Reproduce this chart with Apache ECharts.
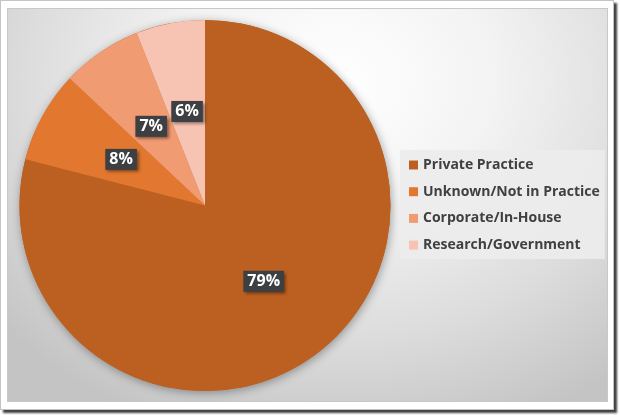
<!DOCTYPE html>
<html>
<head>
<meta charset="utf-8">
<script src="https://cdn.jsdelivr.net/npm/echarts@6/dist/echarts.min.js"></script>
<style>
  html, body { margin: 0; padding: 0; background: #ffffff; width: 620px; height: 415px; overflow: hidden; }
  #frame { position: absolute; left: 0; top: 0; width: 612px; height: 408px; border: 1px solid #c4c4c4; background: #ffffff; box-shadow: 3px 3px 2px rgba(0,0,0,0.75); }
  #inner { position: absolute; left: 7px; top: 8px; width: 599px; height: 392px; border: 1px solid #c8c8c8;
    background: radial-gradient(ellipse 75% 95% at 55% 18%, #ffffff 0%, #f3f3f3 35%, #dcdcdc 70%, #c4c4c4 100%); }
  #chart { position: absolute; left: 0; top: 0; width: 620px; height: 415px; }
</style>
</head>
<body>
<div id="frame"></div>
<div id="inner"></div>
<div id="chart"></div>
<script>
const categories = ['Private Practice', 'Unknown/Not in Practice', 'Corporate/In-House', 'Research/Government'];
const values = [79, 8, 7, 6];
const colors = ['#BC6022', '#E2772F', '#F19B72', '#F7C3B2'];

const chart = echarts.init(document.getElementById('chart'), null, { renderer: 'canvas' });
const data = categories.map((c, i) => ({ name: c, value: values[i], itemStyle: { color: colors[i] } }));

chart.setOption({
  backgroundColor: 'transparent',
  animation: false,
  legend: {
    orient: 'vertical',
    left: 400,
    top: 150,
    data: categories,
    icon: 'rect',
    itemWidth: 9,
    itemHeight: 9,
    itemGap: 10.7,
    padding: [7, 5, 6, 9],
    backgroundColor: 'rgba(236,236,236,0.9)',
    textStyle: { fontFamily: 'Open Sans', fontWeight: 'bold', fontSize: 14, color: '#404040', lineHeight: 16 }
  },
  series: [
    {
      type: 'pie',
      silent: true,
      center: [205, 205.5],
      radius: 185.5,
      z: 1,
      label: { show: false },
      labelLine: { show: false },
      itemStyle: { color: '#BC6022', shadowBlur: 10, shadowColor: 'rgba(0,0,0,0.35)', shadowOffsetX: 1, shadowOffsetY: 2 },
      data: [{ value: 1, name: '_bg' }],
      legendHoverLink: false
    },
    {
      type: 'pie',
      center: [205, 205.5],
      radius: 185.5,
      startAngle: 90,
      clockwise: true,
      z: 2,
      itemStyle: { borderWidth: 0 },
      label: {
        show: true,
        position: 'inside',
        formatter: (p) => Math.round(p.percent) + '%',
        color: '#ffffff',
        fontFamily: 'Open Sans',
        fontWeight: 'bold',
        fontSize: 16,
        backgroundColor: '#3d3f42',
        padding: [3, 4, 2, 4],
        shadowColor: 'rgba(0,0,0,0.45)',
        shadowBlur: 3,
        shadowOffsetX: 2,
        shadowOffsetY: 2
      },
      labelLine: { show: false },
      data: data
    }
  ]
});
</script>
</body>
</html>
